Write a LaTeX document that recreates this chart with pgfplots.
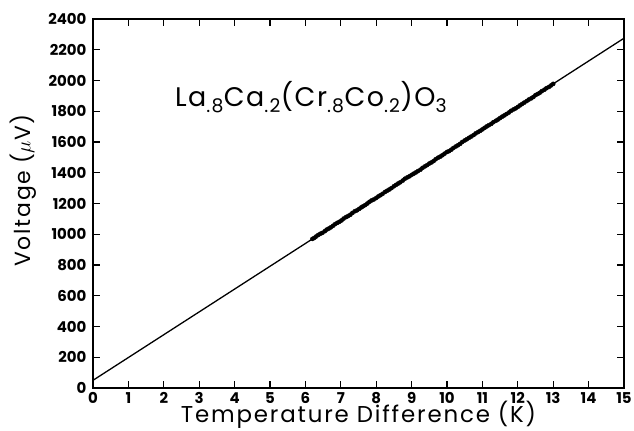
\documentclass[border=0pt]{standalone}
\usepackage{fontspec}
\setmainfont{Poppins}
\newfontfamily\labfont[LetterSpace=8]{Poppins}
\newfontfamily\annfont[LetterSpace=6]{Poppins}
\usepackage{pgfplots}
\pgfplotsset{compat=1.18}
\begin{document}
\begin{tikzpicture}
\begin{axis}[
  scale only axis,
  width=531bp, height=369bp,
  xmin=0, xmax=15, ymin=0, ymax=2400,
  xtick={0,1,...,15}, ytick={0,200,...,2400},
  tick align=inside, major tick length=7bp,
  tick style={line width=1.2pt, black},
  axis line style={line width=1.4pt},
  /pgf/number format/assume math mode=true,
  /pgf/number format/1000 sep={},
  ticklabel style={font=\fontsize{15}{15}\selectfont\bfseries},
  xticklabel style={yshift=-1bp},
  yticklabel style={xshift=-3bp},
]
% linear fit
\addplot[black, line width=1.3pt] coordinates {(0,50) (15,2275)};
% measured points
\addplot[only marks, mark=*, mark size=2.1pt, black] coordinates {
(6.20,970) (6.25,976) (6.30,985) (6.36,995) (6.42,1003) (6.48,1009) (6.55,1020)
(6.60,1030) (6.66,1037) (6.72,1045) (6.78,1055) (6.84,1066) (6.90,1074)
(6.96,1081) (7.02,1090) (7.08,1102) (7.15,1112) (7.21,1119) (7.27,1127)
(7.33,1139) (7.40,1150) (7.46,1156) (7.52,1165) (7.58,1175) (7.63,1182)
(7.69,1190) (7.75,1200) (7.81,1211) (7.87,1220) (7.93,1226) (8.00,1236)
(8.06,1246) (8.12,1254) (8.18,1263) (8.25,1275) (8.31,1283) (8.37,1291)
(8.43,1300) (8.50,1312) (8.56,1321) (8.62,1330) (8.68,1338) (8.75,1349)
(8.81,1361) (8.88,1370) (8.94,1377) (9.00,1386) (9.06,1394) (9.12,1402)
(9.18,1411) (9.25,1420) (9.31,1432) (9.38,1442) (9.44,1450) (9.50,1460)
(9.56,1467) (9.62,1476) (9.68,1488) (9.75,1498) (9.81,1505) (9.87,1514)
(9.93,1524) (10.00,1535) (10.06,1541) (10.12,1550) (10.18,1561) (10.25,1571)
(10.31,1579) (10.37,1588) (10.43,1600) (10.50,1610) (10.56,1618) (10.62,1627)
(10.68,1635) (10.75,1645) (10.81,1656) (10.88,1665) (10.94,1673) (11.00,1682)
(11.06,1692) (11.12,1701) (11.18,1709) (11.25,1718) (11.31,1729) (11.38,1738)
(11.44,1746) (11.50,1756) (11.56,1765) (11.62,1773) (11.68,1782) (11.75,1792)
(11.81,1803) (11.88,1812) (11.94,1819) (12.00,1828) (12.06,1838) (12.12,1847)
(12.18,1856) (12.25,1866) (12.31,1876) (12.38,1884) (12.44,1893) (12.50,1905)
(12.56,1912) (12.62,1920) (12.68,1931) (12.75,1940) (12.81,1950) (12.88,1958)
(12.94,1968) (13.00,1978)
};
\node[anchor=base, font=\annfont\fontsize{27}{27}\selectfont, inner sep=0pt] at (axis cs:6.16,1828)
  {La\textsubscript{.8}Ca\textsubscript{.2}(Cr\textsubscript{.8}Co\textsubscript{.2})O\textsubscript{3}};
\end{axis}
% axis titles
\node[font=\labfont\fontsize{23}{23}\selectfont, anchor=center] at ([yshift=-27bp]current axis.south) {Temperature Difference (K)};
\node[font=\labfont\fontsize{22}{22}\selectfont, anchor=center, rotate=90] at ([xshift=-70bp,yshift=13bp]current axis.west) {Voltage ($\mu$V)};
% picture frame
\pgfresetboundingbox
\path ([shift={(-93bp,-43bp)}]current axis.south west) rectangle ([shift={(10bp,19bp)}]current axis.north east);
\end{tikzpicture}
\end{document}
